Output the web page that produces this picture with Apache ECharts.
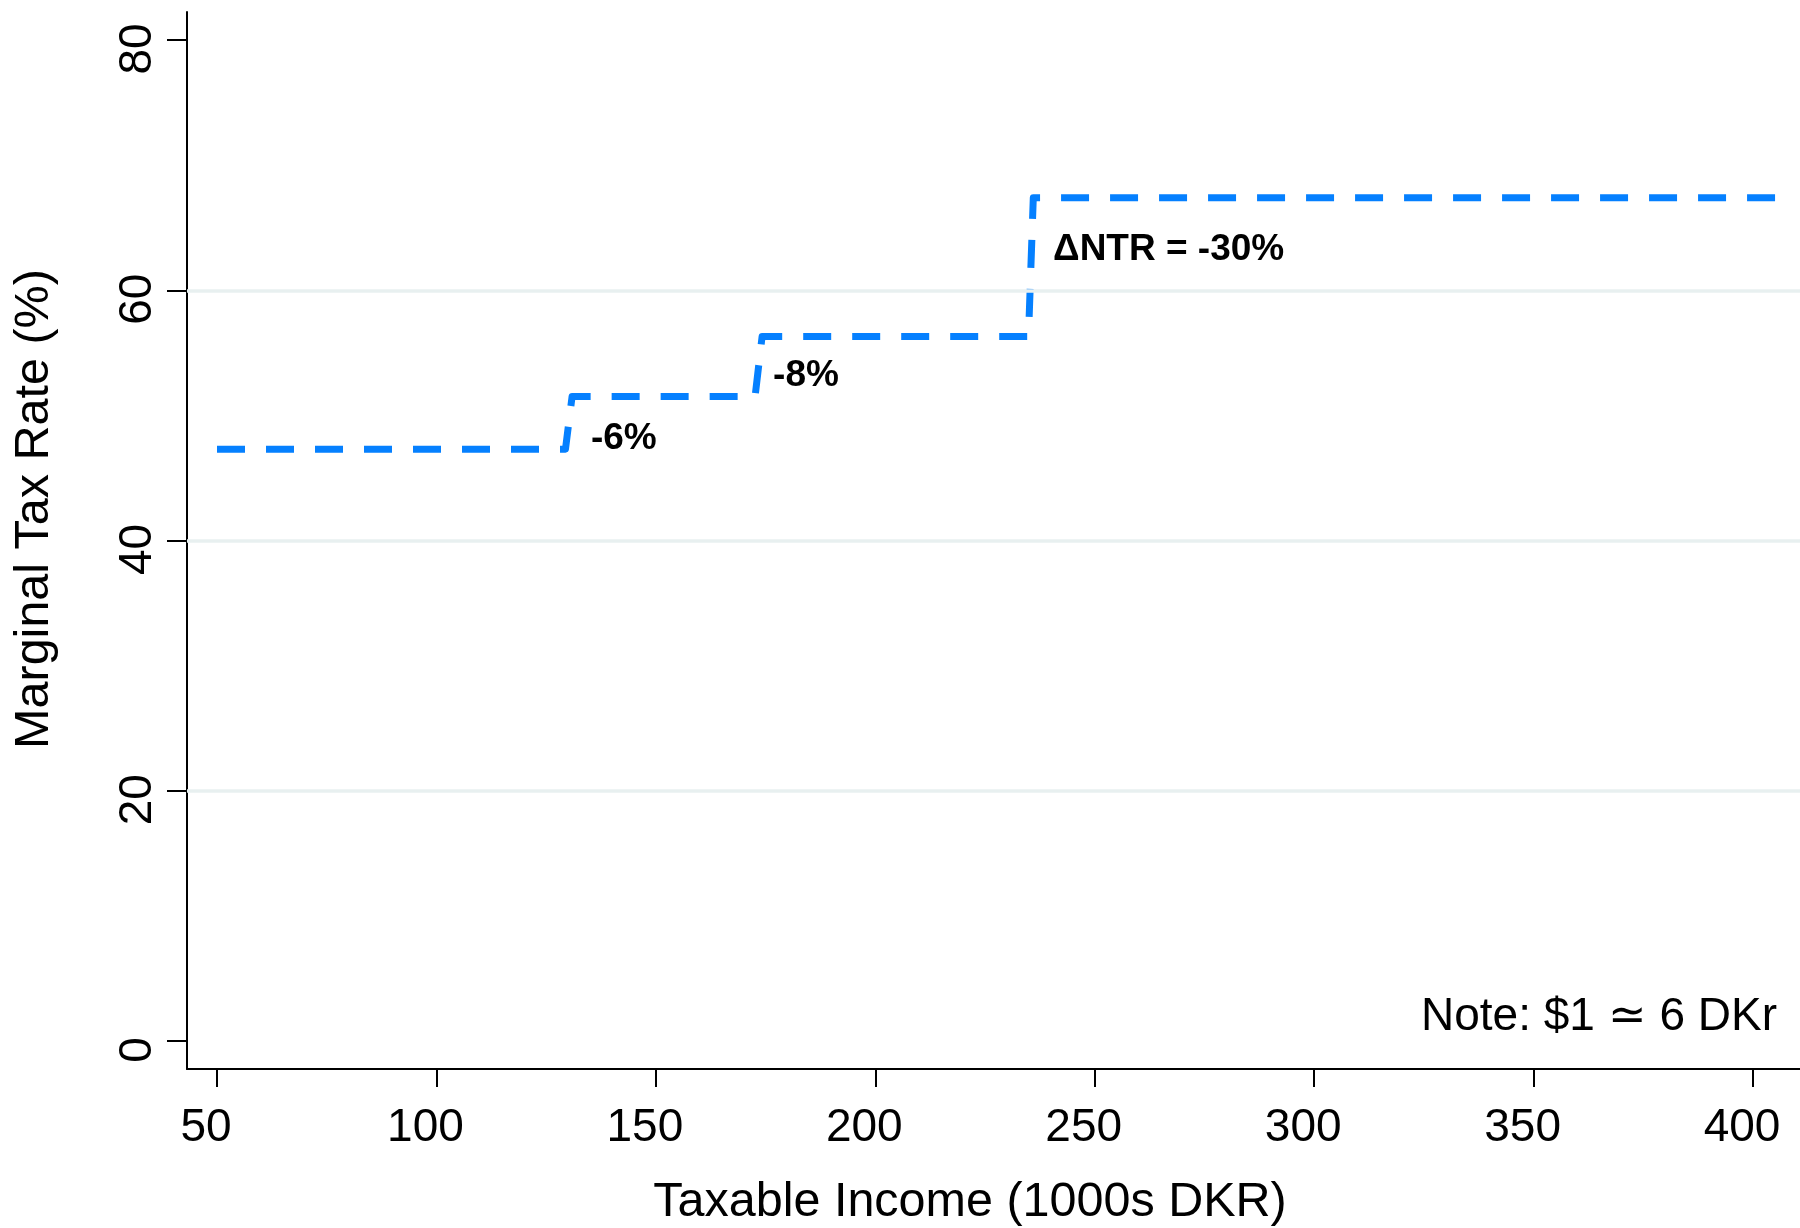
<!DOCTYPE html>
<html>
<head>
<meta charset="utf-8">
<script src="https://cdn.jsdelivr.net/npm/echarts@6/dist/echarts.min.js"></script>
<style>html,body{margin:0;padding:0;background:#fff;}#c{width:1800px;height:1228px;}</style>
</head>
<body>
<div id="c"></div>
<script>
// Step schedule of marginal tax rates (x: taxable income, 1000s DKR; y: %)
const incomeX = [50, 129.4, 130.9, 172.6, 174.2, 234.9, 236.0, 405.5];
const rateY   = [47.3, 47.3, 51.5, 51.5, 56.3, 56.3, 67.4, 67.4];

// Annotation labels
const annoText = ['-6%', '-8%', '\u0394NTR = -30%'];
const annoX    = [135.2, 176.7, 240.5];
const annoY    = [48.1, 53.2, 63.25];

// Axis ticks
const xTicks = [50, 100, 150, 200, 250, 300, 350, 400];
const yTicks = [0, 20, 40, 60, 80];
const gridValues = [20, 40, 60];

const FONT = '"Liberation Sans", Arial, Helvetica, sans-serif';

const chart = echarts.init(document.getElementById('c'), null, {renderer: 'canvas'});
chart.setOption({
  backgroundColor: '#ffffff',
  animation: false,
  grid: {left: 187, top: 12, right: 0, bottom: 159, containLabel: false},
  xAxis: {
    type: 'value',
    min: 43.16, max: 410.7,
    axisLine: {show: true, onZero: false, lineStyle: {color: '#000', width: 2}},
    axisTick: {show: true, length: 18, lineStyle: {color: '#000', width: 2}, customValues: xTicks},
    axisLabel: {show: true, customValues: xTicks, fontSize: 46, color: '#000', fontFamily: FONT, margin: 36, padding: [0, 22, 0, 0]},
    splitLine: {show: false}
  },
  yAxis: {
    type: 'value',
    min: -2.24, max: 82.24,
    axisLine: {show: true, onZero: false, lineStyle: {color: '#000', width: 2}},
    axisTick: {show: true, length: 20, lineStyle: {color: '#000', width: 2}, customValues: yTicks},
    axisLabel: {show: true, customValues: yTicks, rotate: 90, fontSize: 46, color: '#000', fontFamily: FONT, margin: 26, padding: [0, 18, 0, 0]},
    splitLine: {show: false}
  },
  series: [
    {
      type: 'line', data: [], z: 1, silent: true,
      markLine: {
        silent: true, symbol: ['none', 'none'], label: {show: false},
        lineStyle: {color: '#e8f0f0', width: 3.5, type: 'solid'},
        data: gridValues.map(v => ({yAxis: v}))
      }
    },
    {
      type: 'line', z: 3,
      data: incomeX.map((x, i) => [x, rateY[i]]),
      showSymbol: false, symbol: 'none',
      lineStyle: {color: '#0580FF', width: 7, type: [28, 21], cap: 'butt', join: 'round'}
    },
    {
      type: 'scatter', z: 4, symbolSize: 0,
      itemStyle: {color: '#000', opacity: 1},
      data: annoText.map((t, i) => ({name: t, value: [annoX[i], annoY[i]]})),
      label: {
        show: true, position: 'inside', formatter: '{b}', align: 'left', verticalAlign: 'middle',
        fontSize: 37, fontWeight: 'bold', color: '#000', opacity: 1, textBorderWidth: 0, fontFamily: FONT
      }
    }
  ],
  graphic: [
    {type: 'text', x: 35, y: 509, rotation: Math.PI / 2,
     style: {text: 'Marginal Tax Rate (%)', fill: '#000', font: '48.5px ' + FONT, align: 'center', verticalAlign: 'middle'}},
    {type: 'text', x: 970, y: 1203,
     style: {text: 'Taxable Income (1000s DKR)', fill: '#000', font: '48.5px ' + FONT, align: 'center', verticalAlign: 'middle'}},
    {type: 'text', x: 1777, y: 1017,
     style: {text: 'Note: $1 \u2243 6 DKr', fill: '#000', font: '46px ' + FONT, align: 'right', verticalAlign: 'middle'}}
  ]
});
</script>
</body>
</html>
